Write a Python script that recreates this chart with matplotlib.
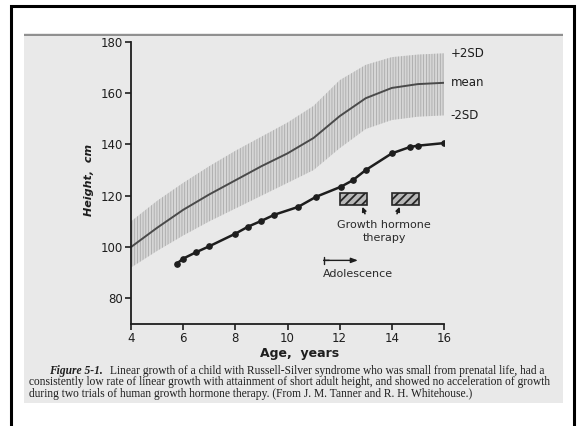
import matplotlib.pyplot as plt
from matplotlib.patches import Rectangle

# reference curves (Tanner-Whitehouse standard)
band_age = [4, 5, 6, 7, 8, 9, 10, 11, 12, 13, 14, 15, 16]
mean_cm = [100, 107.5, 114.5, 120.5, 126, 131.5, 136.5, 142.5, 151, 158, 162, 163.5, 164]
upper_cm = [110, 118, 125, 131.5, 137.5, 143, 148.5, 155, 165, 171, 174, 175, 175.5]
lower_cm = [92, 98.5, 104.5, 110, 115, 120, 125, 130, 138.5, 146, 149.5, 150.8, 151.3]

# the child
child_age = [5.75, 6, 6.5, 7, 8, 8.5, 9, 9.5, 10.4, 11.1, 12.05, 12.5, 13, 14, 14.7, 15, 16]
child_cm = [93.5, 95.5, 98, 100.3, 105.2, 108, 110.2, 112.6, 115.6, 119.6, 123.5, 126, 130,
            136.5, 139, 139.5, 140.5]

# growth hormone treatment periods (start, end)
gh_trials = [(12.0, 13.05), (14.0, 15.05)]

yticks = [80, 100, 120, 140, 160, 180]
xticks = [4, 6, 8, 10, 12, 14, 16]

caption = [
    "Linear growth of a child with Russell-Silver syndrome who was small from prenatal life, had a",
    "consistently low rate of linear growth with attainment of short adult height, and showed no acceleration of growth",
    "during two trials of human growth hormone therapy. (From J. M. Tanner and R. H. Whitehouse.)",
]

plt.rcParams['hatch.linewidth'] = 0.5
ink = '#1e1e1e'

fig = plt.figure(figsize=(5.79, 4.26), dpi=100)
fig.patch.set_facecolor('white')

# black frame and the photographed slide
fig.patches.append(Rectangle((0.0185, -0.05), 0.973, 1.0366, transform=fig.transFigure,
                             fill=False, edgecolor='black', linewidth=2.2, zorder=-3))
fig.patches.append(Rectangle((0.0415, 0.054), 0.931, 0.8685, transform=fig.transFigure,
                             facecolor='#e9e9e9', edgecolor='none', zorder=-3))
fig.patches.append(Rectangle((0.0415, 0.915), 0.931, 0.006, transform=fig.transFigure,
                             facecolor='#555555', edgecolor='none', alpha=0.6, zorder=-2))

ax = fig.add_axes([0.2263, 0.2394, 0.5405, 0.6626])
ax.set_facecolor('none')

ax.fill_between(band_age, lower_cm, upper_cm, facecolor='#d6d6d6', edgecolor='#a2a2a2',
                hatch='||||||', linewidth=0)
ax.plot(band_age, mean_cm, color='#4a4a4a', linewidth=1.4)
ax.plot(child_age, child_cm, color=ink, linewidth=1.8, marker='o', markersize=3.8,
        markerfacecolor=ink, markeredgecolor=ink)

ax.text(16.25, upper_cm[-1], '+2SD', fontsize=8.5, color=ink, va='center', ha='left')
ax.text(16.25, mean_cm[-1], 'mean', fontsize=8.5, color=ink, va='center', ha='left')
ax.text(16.25, lower_cm[-1], '-2SD', fontsize=8.5, color=ink, va='center', ha='left')

with plt.rc_context({'hatch.linewidth': 1.3}):
    for start, end in gh_trials:
        ax.add_patch(Rectangle((start, 116.3), end - start, 4.7, facecolor='#b8b8b8',
                               edgecolor='#262626', hatch='////', linewidth=1.2))
ax.annotate('', xy=(12.87, 115.7), xytext=(12.97, 113.0),
            arrowprops=dict(arrowstyle='-|>,head_length=0.25,head_width=0.12', color=ink, lw=1.2,
                            shrinkA=0, shrinkB=0))
ax.annotate('', xy=(14.3, 115.7), xytext=(14.2, 113.0),
            arrowprops=dict(arrowstyle='-|>,head_length=0.25,head_width=0.12', color=ink, lw=1.2,
                            shrinkA=0, shrinkB=0))
ax.text(13.68, 108.5, 'Growth hormone', fontsize=8, color='#2a2a2a', ha='center', va='center')
ax.text(13.73, 103.4, 'therapy', fontsize=8, color='#2a2a2a', ha='center', va='center')

# adolescence marker: bar at start, arrow head at the end
ax.annotate('', xy=(12.7, 94.8), xytext=(11.39, 94.8),
            arrowprops=dict(arrowstyle='-|>,head_length=0.4,head_width=0.15',
                            color=ink, lw=1.0, shrinkA=0, shrinkB=0))
ax.annotate('', xy=(11.6, 94.8), xytext=(11.39, 94.8),
            arrowprops=dict(arrowstyle='|-|,widthA=0.25,widthB=0.0',
                            color=ink, lw=1.0, shrinkA=0, shrinkB=0))
ax.text(11.36, 89.5, 'Adolescence', fontsize=8, color='#2a2a2a', ha='left', va='center')

ax.set_xlim(4, 16)
ax.set_ylim(70, 180)
ax.set_xticks(xticks)
ax.set_yticks(yticks)
for side in ['top', 'right']:
    ax.spines[side].set_visible(False)
for side in ['left', 'bottom']:
    ax.spines[side].set_color(ink)
    ax.spines[side].set_linewidth(1.3)
ax.tick_params(colors=ink, labelsize=8.5, length=4, width=1.2, pad=2)
ax.set_xlabel('Age,  years', fontsize=9, fontweight='bold', color=ink)
ax.xaxis.set_label_coords(0.54, -0.083)
ax.set_ylabel('Height,  cm', fontsize=8, fontweight='bold', style='italic', color=ink)
ax.yaxis.set_label_coords(-0.118, 0.51)

# caption of the book figure
cap_style = dict(family='Liberation Serif', color=ink, va='center', fontsize=8.3)
fig.text(49 / 579, 1 - 371 / 426, 'Figure 5-1.', style='italic', fontweight='bold', **cap_style)
fig.text(110 / 579, 1 - 371 / 426, caption[0], **cap_style)
fig.text(29 / 579, 1 - 382.5 / 426, caption[1], **cap_style)
fig.text(29 / 579, 1 - 394 / 426, caption[2], **cap_style)

fig.savefig('out.png', dpi=100)
